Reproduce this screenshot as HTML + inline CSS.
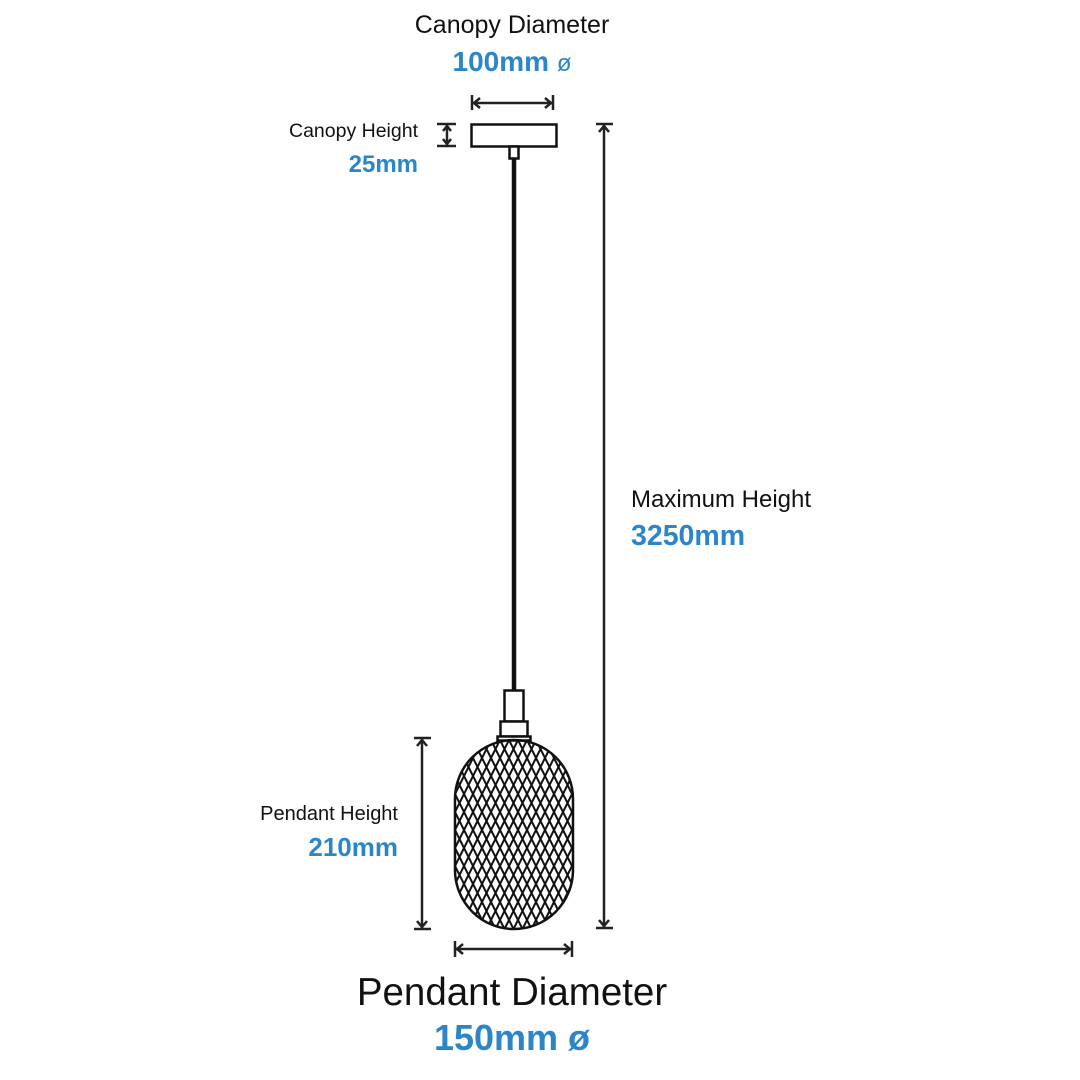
<!DOCTYPE html>
<html><head><meta charset="utf-8"><style>
html,body{margin:0;padding:0;background:#fff}
svg{display:block}
text{font-family:"Liberation Sans",sans-serif}
</style></head><body>
<svg width="1080" height="1080" viewBox="0 0 1080 1080" xmlns="http://www.w3.org/2000/svg">
<defs>
<pattern id="mesh" x="455" y="740" width="9" height="18" patternUnits="userSpaceOnUse">
<line x1="0" y1="0" x2="9" y2="18" stroke="#111" stroke-width="2"/>
<line x1="9" y1="0" x2="0" y2="18" stroke="#111" stroke-width="2"/>
<line x1="-4.5" y1="9" x2="0" y2="18" stroke="#111" stroke-width="2"/>
<line x1="9" y1="0" x2="13.5" y2="9" stroke="#111" stroke-width="2"/>
</pattern>
</defs>
<text x="512" y="33" font-size="25" text-anchor="middle" fill="#111">Canopy Diameter</text>
<text x="512" y="71" font-size="28" font-weight="bold" text-anchor="middle" fill="#2a86c8">100mm <tspan font-weight="normal" font-size="24">ø</tspan></text>
<text x="418" y="137" font-size="19.5" text-anchor="end" fill="#111">Canopy Height</text>
<text x="418" y="172" font-size="24" font-weight="bold" text-anchor="end" fill="#2a86c8">25mm</text>
<text x="631" y="507" font-size="24" fill="#111">Maximum Height</text>
<text x="631" y="545" font-size="28.5" font-weight="bold" fill="#2a86c8">3250mm</text>
<text x="398" y="820" font-size="20" text-anchor="end" fill="#111">Pendant Height</text>
<text x="398" y="856" font-size="26" font-weight="bold" text-anchor="end" fill="#2a86c8">210mm</text>
<text x="512" y="1005" font-size="38.5" text-anchor="middle" fill="#111">Pendant Diameter</text>
<text x="512" y="1050" font-size="36" font-weight="bold" text-anchor="middle" fill="#2a86c8">150mm ø</text>

<g stroke="#222" stroke-width="2.5" fill="none">
<line x1="472" y1="95" x2="472" y2="110"/><line x1="553" y1="95" x2="553" y2="110"/>
<line x1="473" y1="103" x2="552" y2="103"/>
<polyline points="480,98 474,103 480,108"/><polyline points="545,98 551,103 545,108"/>
<line x1="437" y1="124" x2="456" y2="124"/><line x1="437" y1="146" x2="456" y2="146"/>
<line x1="447" y1="125" x2="447" y2="145"/>
<polyline points="443,131 447,126 451,131"/><polyline points="443,139 447,144 451,139"/>
<line x1="596" y1="124" x2="613" y2="124"/><line x1="596" y1="928" x2="613" y2="928"/>
<line x1="604" y1="125" x2="604" y2="927"/>
<polyline points="599,132 604,126 609,132"/><polyline points="599,920 604,926 609,920"/>
<line x1="414" y1="738" x2="431" y2="738"/><line x1="414" y1="929" x2="431" y2="929"/>
<line x1="422" y1="739" x2="422" y2="928"/>
<polyline points="417,746 422,740 427,746"/><polyline points="417,921 422,927 427,921"/>
<line x1="455" y1="941" x2="455" y2="957"/><line x1="572" y1="941" x2="572" y2="957"/>
<line x1="456" y1="949" x2="571" y2="949"/>
<polyline points="463,944 457,949 463,954"/><polyline points="564,944 570,949 564,954"/>
</g>
<g stroke="#111" stroke-width="2.5" fill="#fff">
<rect x="471.5" y="124.5" width="85" height="22"/>
<rect x="509.5" y="146.5" width="9" height="12"/>
<line x1="514" y1="158" x2="514" y2="690" stroke-width="4.5"/>
<rect x="504.5" y="690.5" width="19" height="31"/>
<rect x="500.5" y="721.5" width="27" height="15"/>
<rect x="497.5" y="736.5" width="33" height="4"/>
</g>
<rect x="455" y="740" width="118" height="189" rx="59" ry="59" fill="url(#mesh)" stroke="#111" stroke-width="2.5"/>
</svg>
</body></html>
